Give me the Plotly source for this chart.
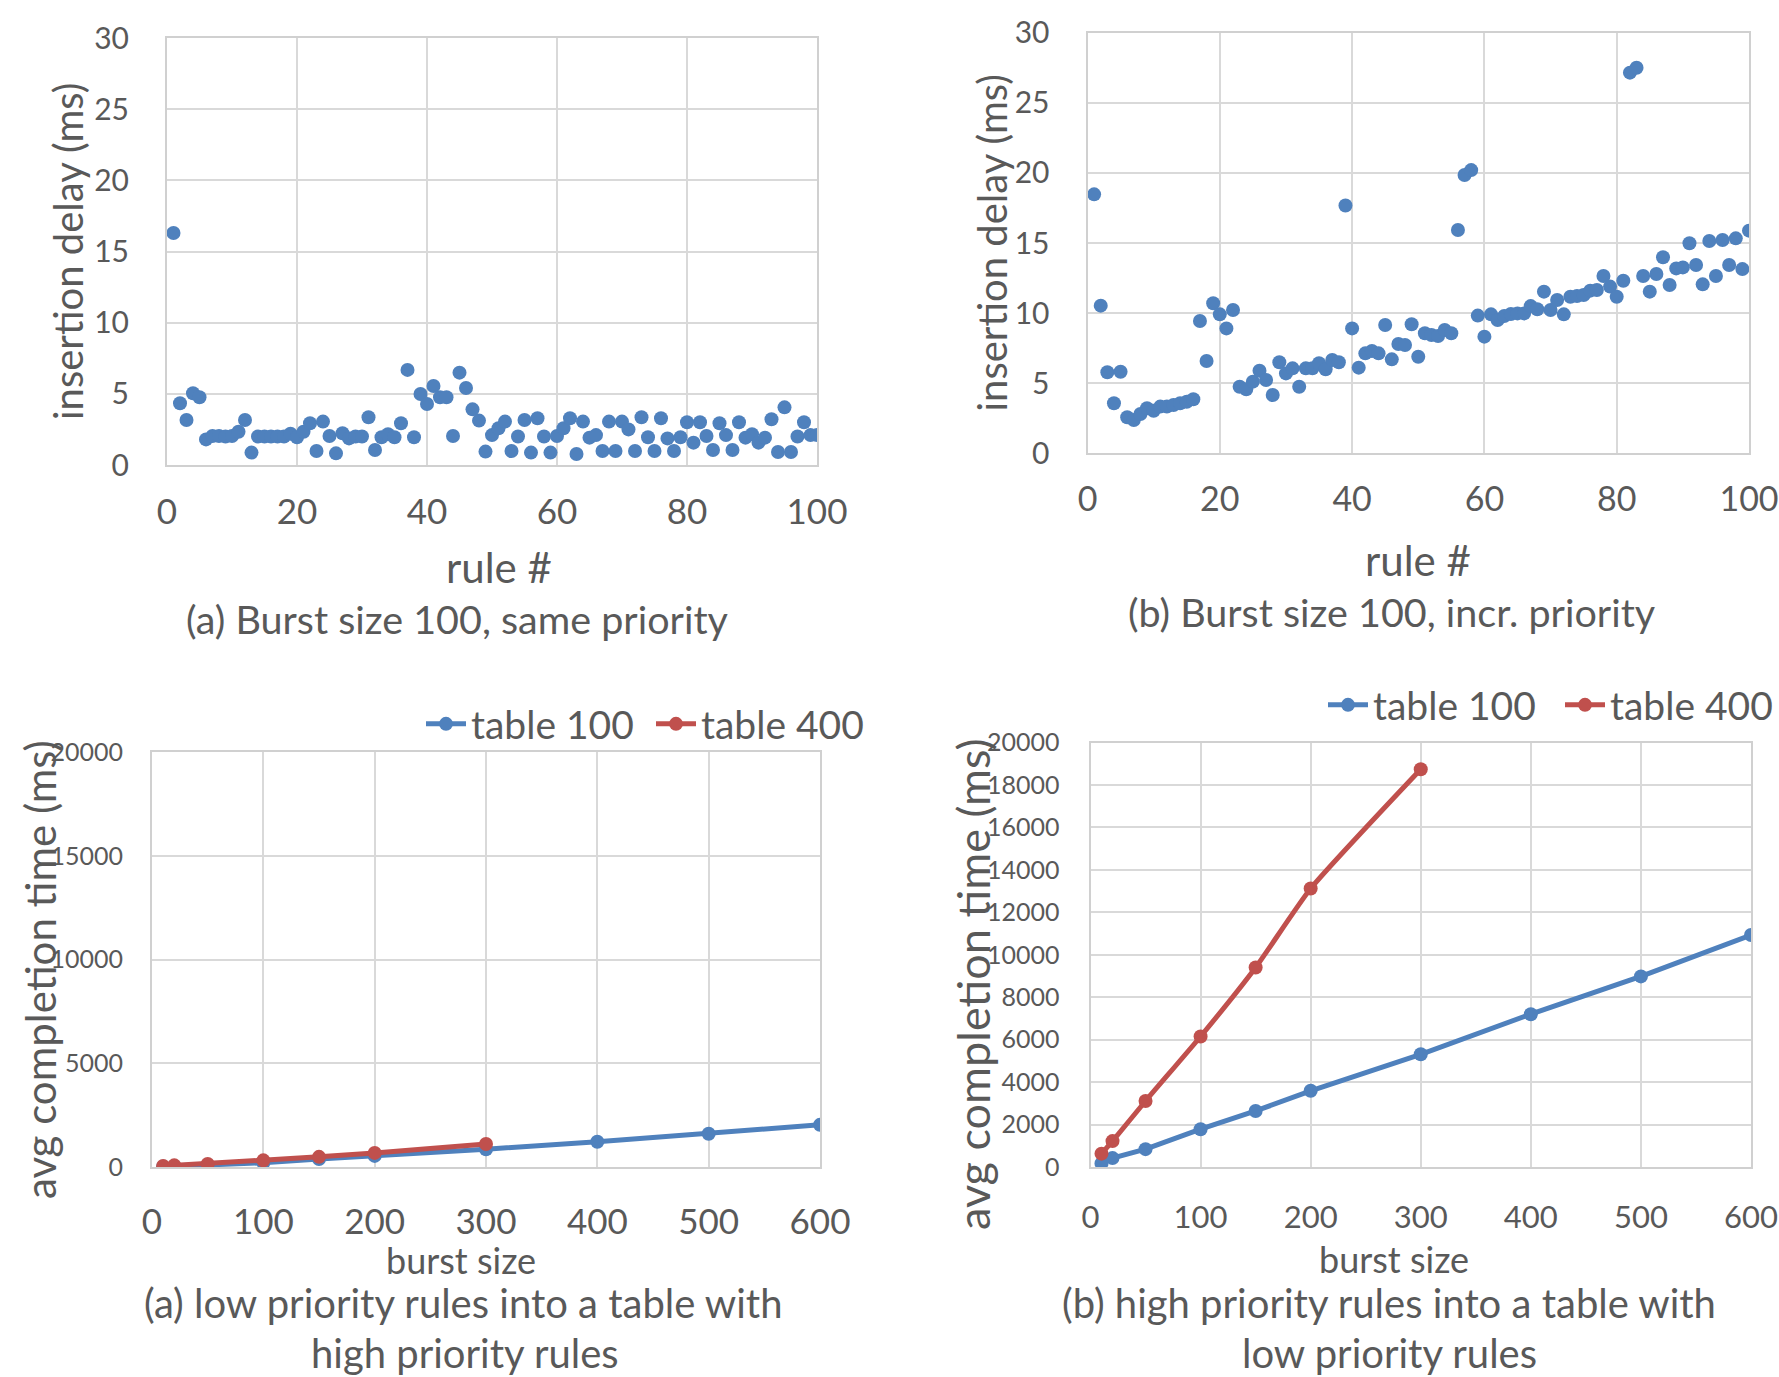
import plotly.graph_objects as go

# ---------------- data ----------------
rule_no = list(range(1, 101))
delay_same = [16.3, 4.34, 3.16, 5.04, 4.76, 1.8, 2.04, 2.04, 2.0, 2.04,
              2.34, 3.16, 0.87, 2.0, 2.0, 2.0, 2.0, 2.0, 2.2, 1.95,
              2.34, 2.93, 0.98, 3.05, 2.04, 0.82, 2.23, 1.87, 2.0, 2.0,
              3.35, 1.05, 1.95, 2.16, 1.95, 2.93, 6.68, 1.95, 4.99, 4.29,
              5.55, 4.76, 4.76, 2.04, 6.49, 5.41, 3.91, 3.12, 0.94, 2.1,
              2.58, 3.05, 0.98, 2.0, 3.16, 0.87, 3.28, 2.0, 0.87, 2.04,
              2.58, 3.28, 0.77, 3.05, 1.92, 2.1, 0.98, 3.05, 0.98, 3.05,
              2.5, 0.98, 3.35, 1.95, 0.98, 3.28, 1.87, 0.98, 1.95, 3.0,
              1.57, 3.0, 2.04, 1.05, 2.93, 2.1, 1.05, 3.0, 1.92, 2.16,
              1.57, 1.92, 3.21, 0.91, 4.05, 0.91, 2.0, 3.0, 2.1, 2.1]
delay_incr = [18.47, 10.53, 5.78, 3.57, 5.82, 2.57, 2.38, 2.8, 3.21, 3.04,
              3.33, 3.33, 3.45, 3.57, 3.68, 3.85, 9.44, 6.58, 10.7, 9.91,
              8.91, 10.22, 4.75, 4.56, 5.11, 5.89, 5.23, 4.16, 6.49, 5.7,
              6.06, 4.75, 6.06, 6.06, 6.42, 5.99, 6.66, 6.49, 17.68, 8.91,
              6.11, 7.13, 7.3, 7.13, 9.15, 6.7, 7.8, 7.73, 9.2, 6.89,
              8.56, 8.44, 8.37, 8.79, 8.56, 15.93, 19.85, 20.2, 9.82, 8.32,
              9.91, 9.51, 9.79, 9.94, 9.98, 9.98, 10.5, 10.27, 11.53, 10.22,
              10.93, 9.91, 11.17, 11.22, 11.29, 11.6, 11.65, 12.65, 11.89, 11.17,
              12.31, 27.15, 27.5, 12.65, 11.53, 12.79, 13.98, 12.0, 13.19, 13.26,
              14.98, 13.43, 12.05, 15.14, 12.65, 15.21, 13.43, 15.33, 13.14, 15.88]

burst_sizes = [10, 20, 50, 100, 150, 200, 300, 400, 500, 600]
burst_sizes_400 = [10, 20, 50, 100, 150, 200, 300]
low_table100 = [20, 40, 100, 200, 380, 535, 856, 1219, 1604, 2032]
low_table400 = [50, 80, 150, 320, 490, 680, 1110]
high_table100 = [170, 420, 840, 1780, 2640, 3590, 5310, 7200, 8980, 10930]
high_table400 = [630, 1220, 3110, 6150, 9400, 13120, 18740]

delay_ticks = [0, 5, 10, 15, 20, 25, 30]
rule_ticks = [0, 20, 40, 60, 80, 100]
burst_ticks = [0, 100, 200, 300, 400, 500, 600]
low_ticks = [0, 5000, 10000, 15000, 20000]
high_ticks = list(range(0, 20001, 2000))

# ---------------- styling ----------------
W, H = 1779, 1377
FONT = "Lato"
TXT = "#595959"
GRID = "#d9d9d9"
BLUE = "#4f81bd"
RED = "#c0504d"


def px_x(p):
    return p / W


def px_y(p):
    return 1 - p / H


def dom(x0, x1, y0, y1):
    return dict(x=[px_x(x0), px_x(x1)], y=[px_y(y1), px_y(y0)])


boxes = {
    "TL": dom(167, 817, 38, 465),
    "TR": dom(1087.5, 1749, 32.7, 453.3),
    "BL": dom(152, 820, 752, 1167),
    "BR": dom(1090.5, 1751, 742.5, 1167),
}


def axis(domain, rng, tickvals, size, standoff, anchor):
    return dict(domain=domain, range=rng, tickvals=tickvals,
                ticktext=[str(v) for v in tickvals], showgrid=True,
                gridcolor=GRID, gridwidth=2, zeroline=False, showline=True,
                mirror=True, linecolor="#d0d0d0", linewidth=2, ticks="",
                tickfont=dict(family=FONT, size=size, color=TXT),
                ticklabelstandoff=standoff, anchor=anchor, fixedrange=True,
                automargin=False)


fig = go.Figure()

fig.add_trace(go.Scatter(x=rule_no, y=delay_same, mode="markers",
                         marker=dict(color=BLUE, size=14), showlegend=False,
                         xaxis="x", yaxis="y"))
fig.add_trace(go.Scatter(x=rule_no, y=delay_incr, mode="markers",
                         marker=dict(color=BLUE, size=14), showlegend=False,
                         xaxis="x2", yaxis="y2"))

fig.add_trace(go.Scatter(x=burst_sizes, y=low_table100, mode="lines+markers",
                         name="table 100", line=dict(color=BLUE, width=5),
                         marker=dict(color=BLUE, size=14),
                         xaxis="x3", yaxis="y3", legend="legend"))
fig.add_trace(go.Scatter(x=burst_sizes_400, y=low_table400, mode="lines+markers",
                         name="table 400", line=dict(color=RED, width=5),
                         marker=dict(color=RED, size=14),
                         xaxis="x3", yaxis="y3", legend="legend"))
fig.add_trace(go.Scatter(x=burst_sizes, y=high_table100, mode="lines+markers",
                         name="table 100", line=dict(color=BLUE, width=5),
                         marker=dict(color=BLUE, size=14),
                         xaxis="x4", yaxis="y4", legend="legend2"))
fig.add_trace(go.Scatter(x=burst_sizes_400, y=high_table400, mode="lines+markers",
                         name="table 400",
                         line=dict(color=RED, width=5, shape="spline", smoothing=0.5),
                         marker=dict(color=RED, size=14),
                         xaxis="x4", yaxis="y4", legend="legend2"))

legend_font = dict(family=FONT, size=39, color=TXT)

fig.update_layout(
    width=W, height=H, margin=dict(l=0, r=0, t=0, b=0, autoexpand=False),
    paper_bgcolor="white", plot_bgcolor="white",
    font=dict(family=FONT, color=TXT),
    xaxis=axis(boxes["TL"]["x"], [0, 100], rule_ticks, 35, 15, "y"),
    yaxis=axis(boxes["TL"]["y"], [0, 30], delay_ticks, 30, 30, "x"),
    xaxis2=axis(boxes["TR"]["x"], [0, 100], rule_ticks, 34, 15, "y2"),
    yaxis2=axis(boxes["TR"]["y"], [0, 30], delay_ticks, 30, 30, "x2"),
    xaxis3=axis(boxes["BL"]["x"], [0, 600], burst_ticks, 35, 23, "y3"),
    yaxis3=axis(boxes["BL"]["y"], [0, 20000], low_ticks, 25, 22, "x3"),
    xaxis4=axis(boxes["BR"]["x"], [0, 600], burst_ticks, 31, 22, "y4"),
    yaxis4=axis(boxes["BR"]["y"], [0, 20000], high_ticks, 25, 24, "x4"),
    legend=dict(orientation="h", x=px_x(421), y=px_y(724), xanchor="left",
                yanchor="middle", font=legend_font, bgcolor="rgba(0,0,0,0)",
                itemwidth=40, tracegroupgap=0, entrywidth=175,
                entrywidthmode="pixels"),
    legend2=dict(orientation="h", x=px_x(1323), y=px_y(705), xanchor="left",
                 yanchor="middle", font=legend_font, bgcolor="rgba(0,0,0,0)",
                 itemwidth=40, tracegroupgap=0, entrywidth=182,
                 entrywidthmode="pixels"),
)


def note(text, cx, cy, size, angle=0):
    fig.add_annotation(text=text, x=px_x(cx), y=px_y(cy), xref="paper",
                       yref="paper", showarrow=False, textangle=angle,
                       xanchor="center", yanchor="middle",
                       font=dict(family=FONT, size=size, color=TXT))


# axis titles
note("insertion delay (ms)", 68, 252, 40, -90)
note("insertion delay (ms)", 992, 243.5, 40, -90)
note("rule #", 499, 567, 42)
note("rule #", 1418, 560, 42)
note("avg completion time (ms)", 40, 970, 42, -90)
note("avg completion time (ms)", 973, 984, 45, -90)
note("burst size", 461, 1260, 36)
note("burst size", 1394, 1259, 36)

# captions
note("(a) Burst size 100, same priority", 458, 618, 39.5)
note("(b) Burst size 100, incr. priority", 1392, 611.5, 39.5)
note("(a) low priority rules into a table with", 463, 1303, 40)
note("high priority rules", 465, 1353, 40)
note("(b) high priority rules into a table with", 1389, 1303, 40)
note("low priority rules", 1389, 1353, 40)

fig.write_html("out.html")
